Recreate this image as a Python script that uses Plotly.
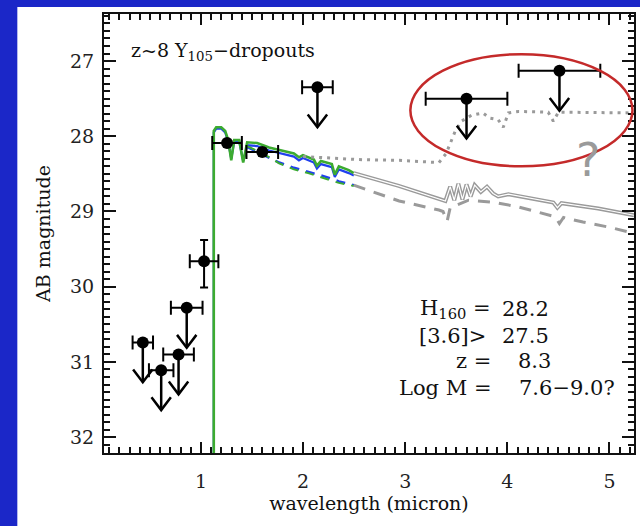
import plotly.graph_objects as go

# ---------------- data ----------------
# photometric upper limits (wavelength micron, AB mag, x half-width)
lim_x = [0.43, 0.61, 0.78, 0.86, 2.14, 3.60, 4.51]
lim_y = [30.74, 31.11, 30.90, 30.28, 27.35, 27.50, 27.13]
lim_xerr = [0.10, 0.12, 0.15, 0.155, 0.15, 0.40, 0.40]
# detections
det_x = [1.03, 1.255, 1.60]
det_y = [29.66, 28.09, 28.21]
det_xerr = [0.14, 0.145, 0.155]
det_yerr_plus = [0.35, 0.03, 0.05]
det_yerr_minus = [0.28, 0.03, 0.05]

# model SEDs
green_x = [1.125, 1.125, 1.149, 1.198, 1.237, 1.266, 1.296, 1.325, 1.374, 1.413, 1.452, 1.55, 1.666,
           1.783, 1.91, 1.959, 1.998, 2.105, 2.135, 2.174, 2.281, 2.31, 2.35, 2.447, 2.496]
green_y = [32.4, 27.93, 27.88, 27.88, 27.93, 28.05, 28.32, 28.05, 28.05, 28.35, 28.08, 28.09, 28.15,
           28.19, 28.23, 28.28, 28.25, 28.31, 28.39, 28.33, 28.37, 28.51, 28.40, 28.45, 28.49]
blue_x = green_x
blue_y = [32.4, 27.95, 27.90, 27.90, 27.95, 28.07, 28.30, 28.07, 28.07, 28.33, 28.12, 28.13, 28.19,
          28.23, 28.27, 28.32, 28.29, 28.35, 28.43, 28.37, 28.41, 28.54, 28.44, 28.49, 28.52]
bdash_x = [1.45, 1.62, 1.765, 1.91, 2.05, 2.2, 2.35, 2.496]
bdash_y = [28.14, 28.25, 28.35, 28.42, 28.47, 28.53, 28.60, 28.65]
gdash_y = [28.13, 28.24, 28.36, 28.44, 28.49, 28.55, 28.62, 28.66]

gsol_x = [2.496, 2.936, 3.393, 3.44, 3.48, 3.52, 3.56, 3.60, 3.64, 3.68, 3.74, 3.80, 3.86, 3.91,
          4.01, 4.23, 4.45, 4.49, 4.53, 4.89, 5.24]
gsol_y = [28.49, 28.66, 28.86, 28.67, 28.85, 28.63, 28.84, 28.64, 28.80, 28.65, 28.74, 28.67, 28.76,
          28.80, 28.77, 28.82, 28.88, 28.95, 28.89, 28.96, 29.05]
gdsh_x = [2.496, 2.94, 3.33, 3.37, 3.41, 3.44, 3.62, 3.88, 4.11, 4.35, 4.47, 4.51, 4.55, 4.74, 5.0, 5.24]
gdsh_y = [28.65, 28.86, 28.98, 29.00, 29.13, 28.95, 28.85, 28.88, 28.94, 29.02, 29.07, 29.16, 29.08,
          29.14, 29.21, 29.29]
gdot_x = [2.0, 2.28, 2.545, 2.94, 3.33, 3.40, 3.44, 3.49, 3.55, 3.65, 3.76, 3.83, 3.91, 3.96, 4.01,
          4.11, 4.40, 4.45, 4.50, 4.89, 5.24]
gdot_y = [28.27, 28.29, 28.31, 28.32, 28.35, 28.23, 28.09, 27.93, 27.80, 27.72, 27.69, 27.76, 27.78,
          27.88, 27.69, 27.67, 27.68, 27.80, 27.68, 27.69, 27.69]

x_ticks = [1, 2, 3, 4, 5]
y_ticks = [27, 28, 29, 30, 31, 32]
x_range = [0.05, 5.24]
y_range = [32.21, 26.375]

# highlight ellipse bounds (data units)
ell_x = [3.05, 5.225]
ell_y = [26.91, 28.40]

# ---------------- style ----------------
FONT = "DejaVu Serif"
BLUE = "#1b27c8"
GRAY = "#9a9a9a"
ARROW_LEN = 0.53
HEAD_W = 0.095
HEAD_H = 0.17

fig = go.Figure()

fig.add_trace(go.Scatter(x=blue_x, y=blue_y, mode="lines", line=dict(color="#2040ee", width=2.2)))
fig.add_trace(go.Scatter(x=green_x, y=green_y, mode="lines", line=dict(color="#3cab30", width=2.6)))
fig.add_trace(go.Scatter(x=bdash_x, y=bdash_y, mode="lines",
                         line=dict(color="#2040ee", width=2.6, dash="9px,7px")))
fig.add_trace(go.Scatter(x=bdash_x, y=gdash_y, mode="lines",
                         line=dict(color="#3cab30", width=2.0, dash="9px,7px")))
fig.add_trace(go.Scatter(x=gdot_x, y=gdot_y, mode="lines",
                         line=dict(color=GRAY, width=3, dash="3px,5px")))
fig.add_trace(go.Scatter(x=gsol_x, y=gsol_y, mode="lines", line=dict(color=GRAY, width=4)))
fig.add_trace(go.Scatter(x=gsol_x, y=gsol_y, mode="lines", line=dict(color="white", width=1.2)))
fig.add_trace(go.Scatter(x=gdsh_x, y=gdsh_y, mode="lines",
                         line=dict(color=GRAY, width=3, dash="12px,9px")))

# arrows for upper limits
ax, ay = [], []
for xv, yv in zip(lim_x, lim_y):
    tip = yv + ARROW_LEN
    ax += [xv, xv, None, xv - HEAD_W, xv, xv + HEAD_W, None]
    ay += [yv, tip, None, tip - HEAD_H, tip, tip - HEAD_H, None]
fig.add_trace(go.Scatter(x=ax, y=ay, mode="lines", line=dict(color="black", width=2.5)))

fig.add_trace(go.Scatter(
    x=lim_x, y=lim_y, mode="markers",
    marker=dict(color="black", size=12),
    error_x=dict(type="data", array=lim_xerr, color="black", thickness=2, width=7)))
fig.add_trace(go.Scatter(
    x=det_x, y=det_y, mode="markers",
    marker=dict(color="black", size=12),
    error_x=dict(type="data", array=det_xerr, color="black", thickness=2, width=7),
    error_y=dict(type="data", array=det_yerr_plus, arrayminus=det_yerr_minus,
                 color="black", thickness=2, width=4)))

# shapes: blue page border and red ellipse
fig.add_shape(type="rect", xref="paper", yref="paper", x0=-0.25, x1=(17 - 104) / 532,
              y0=-0.3, y1=1.1, fillcolor=BLUE, line_width=0, layer="above")
fig.add_shape(type="rect", xref="paper", yref="paper", x0=-0.25, x1=1.1,
              y0=(453 - 7) / 439, y1=1.1, fillcolor=BLUE, line_width=0, layer="above")
fig.add_shape(type="circle", xref="x", yref="y", x0=ell_x[0], x1=ell_x[1], y0=ell_y[0], y1=ell_y[1],
              line=dict(color="#c42a2a", width=2.5))

# annotations
ann_font = dict(family=FONT, size=21, color="#111")
fig.add_annotation(x=0.29, y=26.88, xref="x", yref="y", text="z~8 Y<sub>105</sub>−dropouts",
                   showarrow=False, xanchor="left", yanchor="middle",
                   font=dict(family=FONT, size=19, color="#111"))
labels = ["H<sub>160</sub> =", "[3.6]>", "z =", "Log M ="]
values = ["28.2", "27.5", "8.3", "7.6−9.0?"]
val_x = [3.93, 3.93, 4.08, 4.09]
lab_x = [3.86, 3.81, 3.86, 3.86]
rows_y = [30.29, 30.65, 30.99, 31.35]
for lab, lx, val, vx, ry in zip(labels, lab_x, values, val_x, rows_y):
    fig.add_annotation(x=lx, y=ry, xref="x", yref="y", text=lab, showarrow=False,
                       xanchor="right", yanchor="middle", font=ann_font)
    fig.add_annotation(x=vx, y=ry, xref="x", yref="y", text=val, showarrow=False,
                       xanchor="left", yanchor="middle", font=ann_font)
fig.add_annotation(x=4.79, y=28.31, xref="x", yref="y", text="?", showarrow=False,
                   font=dict(family="DejaVu Sans", size=46, color=GRAY))

axis_common = dict(showgrid=False, zeroline=False, showline=True, linecolor="#111", linewidth=2,
                   mirror="allticks", ticks="inside", tickcolor="#111", tickwidth=2,
                   tickfont=dict(family=FONT, size=19, color="#222"))
fig.update_xaxes(range=x_range, tickvals=x_ticks, ticklen=11,
                 minor=dict(dtick=0.1, ticks="inside", ticklen=6, tickcolor="#111", tickwidth=1.5),
                 ticklabelstandoff=10,
                 title=dict(text="wavelength (micron)", standoff=6,
                            font=dict(family=FONT, size=19, color="#111")),
                 **axis_common)
fig.update_yaxes(range=y_range, tickvals=y_ticks, ticklen=12,
                 minor=dict(dtick=0.1, ticks="inside", ticklen=6, tickcolor="#111", tickwidth=1.5),
                 ticklabelstandoff=4,
                 title=dict(text="AB magnitude", standoff=14,
                            font=dict(family=FONT, size=19, color="#111")),
                 **axis_common)

fig.update_layout(width=640, height=526, margin=dict(l=104, r=4, t=14, b=73),
                  paper_bgcolor="white", plot_bgcolor="white", showlegend=False)

fig.write_html("out.html")
